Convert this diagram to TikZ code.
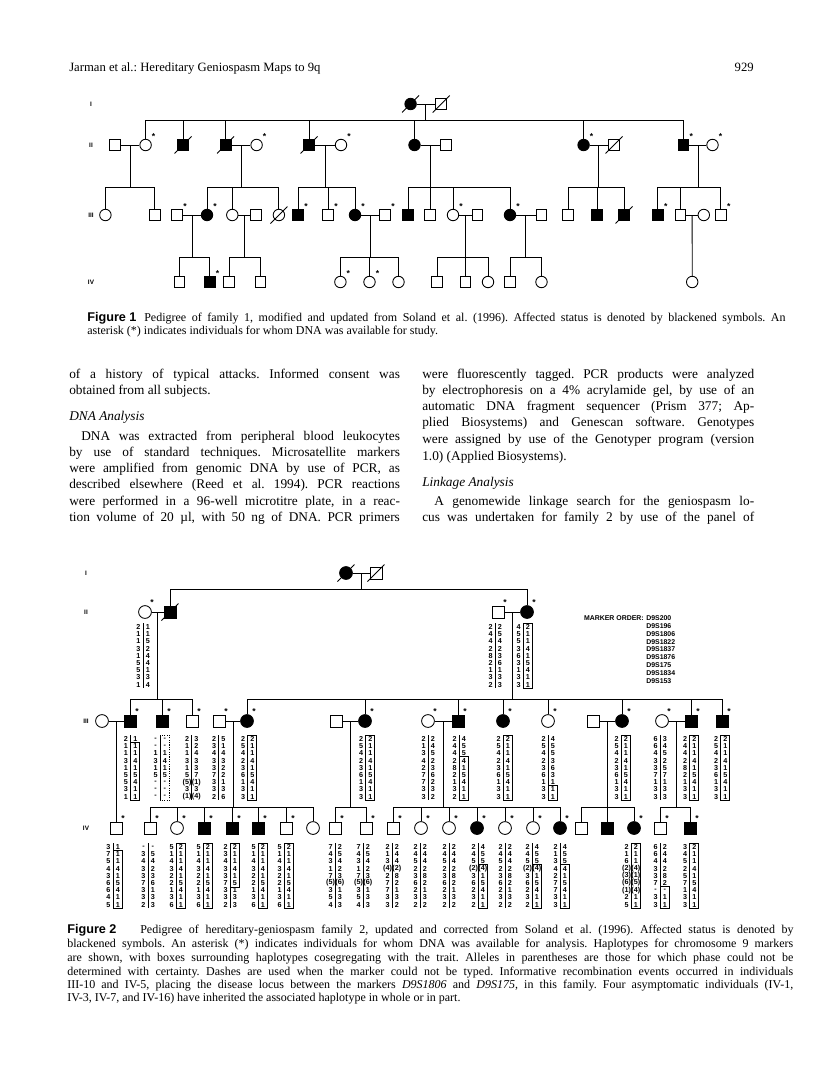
\documentclass[tikz,border=0pt]{standalone}
\usepackage{fontspec}
\setmainfont{Liberation Serif}
\newfontfamily\gsans{Liberation Sans}
\usetikzlibrary{calc}
\frenchspacing
\tikzset{
  lw/.style={line width=0.65pt},
  pb/.style={draw,line width=0.65pt,inner sep=0pt},
  sqA/.style={pb,rectangle,minimum size=8.1pt,fill=white},
  sqAf/.style={sqA,fill=black},
  ciA/.style={pb,circle,minimum size=8.6pt,fill=white},
  ciAf/.style={ciA,fill=black},
  sqB/.style={pb,rectangle,minimum size=9pt,fill=white},
  sqBf/.style={sqB,fill=black},
  ciB/.style={pb,circle,minimum size=9.6pt,fill=white},
  ciBf/.style={ciB,fill=black},
  astr/.style={font=\gsans\bfseries\fontsize{6.5}{7}\selectfont,inner sep=0pt},
  glab/.style={font=\gsans\bfseries\fontsize{4.8}{5}\selectfont,inner sep=0pt},
  gt/.style={font=\gsans\bfseries\fontsize{5.4}{6}\selectfont,inner sep=0pt},
  gsep/.style={line width=0.45pt},
  gbox/.style={line width=0.5pt},
  gboxd/.style={line width=0.5pt,dash pattern=on 0.9pt off 0.9pt},
  mk/.style={font=\gsans\bfseries\fontsize{5.2}{6}\selectfont,inner sep=0pt},
  bt/.style={font=\fontsize{10}{12}\selectfont,inner sep=0pt,anchor=base west},
  bth/.style={font=\fontsize{10}{12}\selectfont\itshape,inner sep=0pt,anchor=base west},
  cp/.style={font=\fontsize{9}{10}\selectfont,inner sep=0pt,anchor=base west},
  cpf/.style={font=\gsans\bfseries\fontsize{9.5}{10}\selectfont,inner sep=0pt,anchor=base west},
}
\newcommand\deadsl[1]{\draw[lw] ($(#1.center)+(-8.5,8.5)$) -- ($(#1.center)+(8.5,-8.5)$);}
\newcommand\asA[1]{\node[astr] (#1s) at ($(#1.center)+(8,-8)$) {*};}
\newcommand\asB[1]{\node[astr] (#1s) at ($(#1.center)+(7,-9)$) {*};}
\newcommand\desc[3]{\coordinate (#1m) at ($(#1)!0.5!(#2)$); \draw[lw] (#1m) -- (#1m |- 0,#3);}
\newcommand\sib[4]{\draw[lw] (#2.north |- 0,#1) -- (#3.north |- 0,#1);
  \foreach \c in {#4}{\draw[lw] (\c.north) -- (\c.north |- 0,#1);}}
\newcommand\geno[8]{%
  \foreach \v [count=\i] in {#4}{\node[gt] (#1l\i) at ({#2-4.5},{#3+(\i-1)*7.2}) {\v};}
  \foreach \v [count=\i] in {#5}{\node[gt] (#1r\i) at ({#2+4.8},{#3+(\i-1)*7.2}) {\v};}
  \draw[gsep] (#2,{#3-3.8}) -- (#2,{#3+61.4});
  \ifnum#6>0 \draw[#8] (#2,{#3+(#6-1)*7.2-3.9}) rectangle ({#2+9.3},{#3+(#7-1)*7.2+3.9});\fi
}
\begin{document}
\begin{tikzpicture}[x=0.75pt,y=-0.75pt]
\fill[white] (0,0) rectangle (816,1081);
\useasboundingbox (0,0) rectangle (816,1081);

% ---------- header ----------
\node[bt,font=\fontsize{9.5}{11}\selectfont] (hdl) at (69,72) {Jarman et al.: Hereditary Geniospasm Maps to 9q};
\node[bt,anchor=base east,font=\fontsize{9.5}{11}\selectfont] (hdr) at (754,72) {929};

% ---------- Figure 1 ----------
\node[glab] (g1a) at (91,104) {I};
\node[glab] (g1b) at (91,145) {II};
\node[glab] (g1c) at (91,215) {III};
\node[glab] (g1d) at (91,282) {IV};

\node[ciAf] (aI1) at (410.6,104) {};
\node[sqA] (aI2) at (441.2,104) {};
\deadsl{aI1}\deadsl{aI2}
\draw[lw] (aI1) -- (aI2);
\desc{aI1}{aI2}{120}

\node[sqA] (aII1) at (115,145) {};
\node[ciA] (aII2) at (145.6,145) {};
\node[sqAf] (aII3) at (183,145) {};
\node[sqAf] (aII4) at (225.6,145) {};
\node[ciA] (aII5) at (256.6,145) {};
\node[sqAf] (aII6) at (309,145) {};
\node[ciA] (aII7) at (341,145) {};
\node[ciAf] (aII8) at (414.5,145) {};
\node[sqA] (aII9) at (446,145) {};
\node[ciAf] (aII10) at (583.6,145) {};
\node[sqA] (aII11) at (614,145) {};
\node[sqAf] (aII12) at (683.4,145) {};
\node[ciA] (aII13) at (712.5,145) {};
\deadsl{aII3}\deadsl{aII4}\deadsl{aII6}\deadsl{aII11}
\asA{aII2}\asA{aII5}\asA{aII7}\asA{aII10}\asA{aII12}\asA{aII13}
\draw[lw] (aII1) -- (aII2); \draw[lw] (aII4) -- (aII5); \draw[lw] (aII6) -- (aII7);
\draw[lw] (aII8) -- (aII9); \draw[lw] (aII10) -- (aII11); \draw[lw] (aII12) -- (aII13);
\sib{120}{aII2}{aII12}{aII2,aII3,aII4,aII6,aII8,aII10,aII12}

\node[ciA] (aIII1) at (105.4,215) {};
\node[sqA] (aIII2) at (154.8,215) {};
\node[sqA] (aIII3) at (177,215) {};
\node[ciAf] (aIII4) at (207,215) {};
\node[ciA] (aIII5) at (232.3,215) {};
\node[sqA] (aIII6) at (255.6,215) {};
\node[ciA] (aIII7) at (278.9,215) {};
\node[sqAf] (aIII8) at (298,215) {};
\node[sqA] (aIII9) at (328,215) {};
\node[ciAf] (aIII10) at (355,215) {};
\node[sqA] (aIII11) at (385,215) {};
\node[sqAf] (aIII12) at (408,215) {};
\node[sqA] (aIII13) at (430,215) {};
\node[ciA] (aIII14) at (453,215) {};
\node[sqA] (aIII15) at (477.5,215) {};
\node[ciAf] (aIII16) at (510,215) {};
\node[sqA] (aIII17) at (541.5,215) {};
\node[sqA] (aIII18) at (568,215) {};
\node[sqAf] (aIII19) at (597,215) {};
\node[sqAf] (aIII20) at (624,215) {};
\node[sqAf] (aIII21) at (657.7,215) {};
\node[sqA] (aIII22) at (680.5,215) {};
\node[ciA] (aIII23) at (703.8,215) {};
\node[sqA] (aIII24) at (720.7,215) {};
\deadsl{aIII7}\deadsl{aIII20}
\asA{aIII3}\asA{aIII4}\asA{aIII8}\asA{aIII9}\asA{aIII10}\asA{aIII11}\asA{aIII14}\asA{aIII16}\asA{aIII21}\asA{aIII24}
\draw[lw] (aIII3) -- (aIII4); \draw[lw] (aIII5) -- (aIII6); \draw[lw] (aIII10) -- (aIII11);
\draw[lw] (aIII14) -- (aIII15); \draw[lw] (aIII16) -- (aIII17); \draw[lw] (aIII22) -- (aIII23);
\desc{aII1}{aII2}{187}\sib{187}{aIII1}{aIII2}{aIII1,aIII2}
\desc{aII4}{aII5}{187}\sib{187}{aIII4}{aIII7}{aIII4,aIII5,aIII7}
\desc{aII6}{aII7}{187}\sib{187}{aIII8}{aIII10}{aIII8,aIII9,aIII10}
\desc{aII8}{aII9}{187}\sib{187}{aIII12}{aIII16}{aIII12,aIII13,aIII14,aIII16}
\desc{aII10}{aII11}{187}\sib{187}{aIII18}{aIII20}{aIII18,aIII19,aIII20}
\desc{aII12}{aII13}{187}\sib{187}{aIII21}{aIII24}{aIII21,aIII22,aIII24}

\node[sqA] (aIV1) at (179.5,282) {};
\node[sqAf] (aIV2) at (209.6,282) {};
\node[sqA] (aIV3) at (229,282) {};
\node[sqA] (aIV4) at (260.4,282) {};
\node[ciA] (aIV5) at (340.4,282) {};
\node[ciA] (aIV6) at (369.5,282) {};
\node[ciA] (aIV7) at (398.5,282) {};
\node[sqA] (aIV8) at (437.3,282) {};
\node[sqA] (aIV9) at (465.4,282) {};
\node[ciA] (aIV10) at (488,282) {};
\node[sqA] (aIV11) at (510,282) {};
\node[ciA] (aIV12) at (541.5,282) {};
\node[ciA] (aIV13) at (692.2,282) {};
\asA{aIV2}\asA{aIV5}\asA{aIV6}
\desc{aIII3}{aIII4}{257}\sib{257}{aIV1}{aIV2}{aIV1,aIV2}
\desc{aIII5}{aIII6}{257}\sib{257}{aIV3}{aIV4}{aIV3,aIV4}
\desc{aIII10}{aIII11}{257}\sib{257}{aIV5}{aIV7}{aIV5,aIV6,aIV7}
\desc{aIII14}{aIII15}{257}\sib{257}{aIV8}{aIV10}{aIV8,aIV9,aIV10}
\desc{aIII16}{aIII17}{257}\sib{257}{aIV11}{aIV12}{aIV11,aIV12}
\coordinate (aIII22m) at ($(aIII22)!0.5!(aIII23)$);
\draw[lw] (aIII22m) -- (aIV13.north);

% ---------- Figure 1 caption ----------
\node[cpf] (c1f) at (87,321) {Figure 1};
\node[cp] (c1a) at (144,321) {\makebox[481pt][s]{Pedigree of family 1, modified and updated from Soland et al. (1996). Affected status is denoted by blackened symbols. An}};
\node[cp] (c1b) at (87,334.5) {asterisk (*) indicates individuals for whom DNA was available for study.};

% ---------- body text ----------
\node[bt] (b1) at (69,378) {\makebox[248pt][s]{of a history of typical attacks. Informed consent was}};
\node[bt] (b2) at (69,394) {obtained from all subjects.};
\node[bth] (b3) at (69,420) {DNA Analysis};
\node[bt] (b4) at (81,440) {\makebox[239pt][s]{DNA was extracted from peripheral blood leukocytes}};
\node[bt] (b5) at (69,456) {\makebox[248pt][s]{by use of standard techniques. Microsatellite markers}};
\node[bt] (b6) at (69,472) {\makebox[248pt][s]{were amplified from genomic DNA by use of PCR, as}};
\node[bt] (b7) at (69,488) {\makebox[248pt][s]{described elsewhere (Reed et al. 1994). PCR reactions}};
\node[bt] (b8) at (69,505) {\makebox[248pt][s]{were performed in a 96-well microtitre plate, in a reac-}};
\node[bt] (b9) at (69,521) {\makebox[248pt][s]{tion volume of 20 µl, with 50 ng of DNA. PCR primers}};
\node[bt] (r1) at (422,378) {\makebox[249pt][s]{were fluorescently tagged. PCR products were analyzed}};
\node[bt] (r2) at (422,394) {\makebox[249pt][s]{by electrophoresis on a 4\% acrylamide gel, by use of an}};
\node[bt] (r3) at (422,410) {\makebox[249pt][s]{automatic DNA fragment sequencer (Prism 377; Ap-}};
\node[bt] (r4) at (422,426) {\makebox[249pt][s]{plied Biosystems) and Genescan software. Genotypes}};
\node[bt] (r5) at (422,443) {\makebox[249pt][s]{were assigned by use of the Genotyper program (version}};
\node[bt] (r6) at (422,460) {1.0) (Applied Biosystems).};
\node[bth] (r7) at (422,486) {Linkage Analysis};
\node[bt] (r8) at (434,505) {\makebox[240pt][s]{A genomewide linkage search for the geniospasm lo-}};
\node[bt] (r9) at (422,521) {\makebox[249pt][s]{cus was undertaken for family 2 by use of the panel of}};

% ---------- Figure 2 ----------
\node[glab] (g2a) at (86,573) {I};
\node[glab] (g2b) at (86,612) {II};
\node[glab] (g2c) at (86,721) {III};
\node[glab] (g2d) at (86,828) {IV};

\node[ciBf] (bI1) at (346,573) {};
\node[sqB] (bI2) at (376,573) {};
\deadsl{bI1}\deadsl{bI2}
\draw[lw] (bI1) -- (bI2);
\desc{bI1}{bI2}{589}

\node[ciB] (bII1) at (145,612) {};
\node[sqBf] (bII2) at (170,612) {};
\node[sqB] (bII3) at (498,612) {};
\node[ciBf] (bII4) at (527,612) {};
\deadsl{bII2}
\asB{bII1}\asB{bII3}\asB{bII4}
\draw[lw] (bII1) -- (bII2); \draw[lw] (bII3) -- (bII4);
\sib{589}{bII2}{bII4}{bII2,bII4}

\node[mk,anchor=east] (mkh) at (644,618) {MARKER ORDER:};
\foreach \m [count=\i] in {D9S200,D9S196,D9S1806,D9S1822,D9S1837,D9S1876,D9S175,D9S1834,D9S153}
  {\node[mk,anchor=west] (mk\i) at ({646},{618+(\i-1)*7.9}) {\m};}

\geno{o1}{143}{627}{2,1,1,3,1,5,5,3,1}{1,1,5,2,4,4,1,3,4}{0}{0}{gbox}
\geno{o2}{495}{627}{2,4,4,2,8,2,1,3,2}{2,5,4,2,3,6,1,3,3}{0}{0}{gbox}
\geno{o3}{523}{627}{4,5,5,3,6,3,1,3,3}{2,1,1,4,1,5,4,1,1}{1}{9}{gbox}

\node[ciB] (bIII1) at (102,721) {};
\node[sqBf] (bIII2) at (130,721) {};
\node[sqBf] (bIII3) at (162,721) {};
\node[sqB] (bIII4) at (192,721) {};
\node[sqB] (bIII5) at (219,721) {};
\node[ciBf] (bIII6) at (247,721) {};
\node[sqB] (bIII7) at (336,721) {};
\node[ciBf] (bIII8) at (365,721) {};
\node[ciB] (bIII9) at (428,721) {};
\node[sqBf] (bIII10) at (458,721) {};
\node[ciBf] (bIII11) at (503,721) {};
\node[ciB] (bIII12) at (548,721) {};
\node[sqB] (bIII13) at (593,721) {};
\node[ciBf] (bIII14) at (622,721) {};
\node[ciB] (bIII15) at (662,721) {};
\node[sqBf] (bIII16) at (691,721) {};
\node[sqBf] (bIII17) at (722,721) {};
\asB{bIII2}\asB{bIII3}\asB{bIII4}\asB{bIII5}\asB{bIII6}\asB{bIII8}\asB{bIII9}\asB{bIII10}
\asB{bIII11}\asB{bIII12}\asB{bIII14}\asB{bIII15}\asB{bIII16}\asB{bIII17}
\draw[lw] (bIII1) -- (bIII2); \draw[lw] (bIII5) -- (bIII6); \draw[lw] (bIII7) -- (bIII8);
\draw[lw] (bIII9) -- (bIII10); \draw[lw] (bIII13) -- (bIII14); \draw[lw] (bIII15) -- (bIII16);
\desc{bII1}{bII2}{699}\sib{699}{bIII2}{bIII4}{bIII2,bIII3,bIII4}
\desc{bII3}{bII4}{699}\sib{699}{bIII6}{bIII17}{bIII6,bIII8,bIII10,bIII11,bIII12,bIII14,bIII16,bIII17}

\geno{p1}{130.5}{739}{2,1,1,3,1,5,5,3,1}{1,1,1,4,1,5,4,1,1}{2}{9}{gbox}
\geno{p2}{160}{739}{-,-,1,3,1,5,-,-,-}{-,-,1,4,1,5,-,-,-}{1}{9}{gboxd}
\geno{p3}{191.5}{739}{2,1,1,3,1,5,(5),3,(1)}{3,2,4,3,3,7,(1),3,(4)}{0}{0}{gbox}
\geno{p4}{218.5}{739}{2,3,4,3,3,7,3,3,2}{5,1,4,3,2,2,1,3,6}{0}{0}{gbox}
\geno{p5}{247.5}{739}{2,5,4,2,3,6,1,3,3}{2,1,1,4,1,5,4,1,1}{1}{9}{gbox}
\geno{p6}{365.5}{739}{2,5,4,2,3,6,1,3,3}{2,1,1,4,1,5,4,1,1}{1}{9}{gbox}
\geno{p7}{428}{739}{2,1,3,4,2,7,7,3,3}{2,4,5,2,3,6,2,3,2}{0}{0}{gbox}
\geno{p8}{459}{739}{2,4,4,2,8,2,1,3,2}{4,5,5,4,1,5,4,1,1}{4}{9}{gbox}
\geno{p9}{503}{739}{2,5,4,2,3,6,1,3,3}{2,1,1,4,1,5,4,1,1}{1}{9}{gbox}
\geno{p10}{548}{739}{2,5,4,2,3,6,1,3,3}{4,5,5,3,6,3,1,1,1}{8}{9}{gbox}
\geno{p11}{621}{739}{2,5,4,2,3,6,1,3,3}{2,1,1,4,1,5,4,1,1}{1}{9}{gbox}
\geno{p12}{660}{739}{6,6,4,3,3,7,1,3,3}{3,4,5,2,5,7,1,3,3}{0}{0}{gbox}
\geno{p13}{689.5}{739}{2,4,4,2,8,2,1,3,3}{2,1,1,4,1,5,4,1,1}{1}{9}{gbox}
\geno{p14}{720.5}{739}{2,5,4,2,3,6,1,3,3}{2,1,1,4,1,5,4,1,1}{1}{9}{gbox}

\node[sqB] (bIV1) at (116,828) {};
\node[sqB] (bIV2) at (150,828) {};
\node[ciB] (bIV3) at (177,828) {};
\node[sqBf] (bIV4) at (204,828) {};
\node[sqBf] (bIV5) at (232,828) {};
\node[sqBf] (bIV6) at (258,828) {};
\node[sqB] (bIV7) at (286,828) {};
\node[ciB] (bIV8) at (313,828) {};
\node[sqB] (bIV9) at (335,828) {};
\node[sqB] (bIV10) at (366,828) {};
\node[sqB] (bIV11) at (393,828) {};
\node[ciB] (bIV12) at (421,828) {};
\node[ciB] (bIV13) at (449,828) {};
\node[ciBf] (bIV14) at (477,828) {};
\node[ciB] (bIV15) at (505,828) {};
\node[ciB] (bIV16) at (533,828) {};
\node[ciBf] (bIV17) at (560,828) {};
\node[sqB] (bIV18) at (581,828) {};
\node[sqBf] (bIV19) at (607,828) {};
\node[ciBf] (bIV20) at (634,828) {};
\node[sqB] (bIV21) at (660,828) {};
\node[sqBf] (bIV22) at (690,828) {};
\asB{bIV1}\asB{bIV2}\asB{bIV3}\asB{bIV4}\asB{bIV5}\asB{bIV6}\asB{bIV7}\asB{bIV9}\asB{bIV10}
\asB{bIV11}\asB{bIV12}\asB{bIV13}\asB{bIV14}\asB{bIV15}\asB{bIV16}\asB{bIV17}\asB{bIV20}\asB{bIV21}\asB{bIV22}
\coordinate (bIII1m) at ($(bIII1)!0.5!(bIII2)$);
\draw[lw] (bIII1m) -- (bIV1.north);
\desc{bIII5}{bIII6}{807}\sib{807}{bIV2}{bIV8}{bIV2,bIV3,bIV4,bIV5,bIV6,bIV7,bIV8}
\desc{bIII7}{bIII8}{807}\sib{807}{bIV9}{bIV10}{bIV9,bIV10}
\desc{bIII9}{bIII10}{807}\sib{807}{bIV11}{bIV17}{bIV11,bIV12,bIV13,bIV14,bIV15,bIV16,bIV17}
\desc{bIII13}{bIII14}{807}\sib{807}{bIV18}{bIV20}{bIV18,bIV19,bIV20}
\desc{bIII15}{bIII16}{807}\sib{807}{bIV21}{bIV22}{bIV21,bIV22}

\geno{q1}{113}{847}{3,7,5,4,3,6,6,4,5}{1,1,1,4,1,5,4,1,1}{2}{9}{gbox}
\geno{q2}{148}{847}{-,3,4,3,3,7,3,3,2}{-,5,4,2,3,6,1,3,3}{0}{0}{gbox}
\geno{q3}{176}{847}{5,1,4,3,2,2,1,3,6}{2,1,1,4,1,5,4,1,1}{1}{9}{gbox}
\geno{q4}{203}{847}{5,1,4,3,2,2,1,3,6}{2,1,1,4,1,5,4,1,1}{1}{9}{gbox}
\geno{q5}{230}{847}{2,3,4,3,3,7,3,3,2}{2,1,1,4,1,5,1,3,3}{1}{6}{gbox}
\geno{q6}{258}{847}{5,1,4,3,2,2,1,3,6}{2,1,1,4,1,5,4,1,1}{1}{9}{gbox}
\geno{q7}{284}{847}{5,1,4,3,2,2,1,3,6}{2,1,1,4,1,5,4,1,1}{1}{9}{gbox}
\geno{q8}{335}{847}{7,4,3,1,7,(5),3,5,4}{2,5,4,2,3,(6),1,3,3}{0}{0}{gbox}
\geno{q9}{363}{847}{7,4,3,1,7,(5),3,5,4}{2,5,4,2,3,(6),1,3,3}{0}{0}{gbox}
\geno{q10}{392}{847}{2,1,3,(4),2,7,7,3,3}{2,4,4,(2),8,2,1,3,2}{0}{0}{gbox}
\geno{q11}{420}{847}{2,4,5,2,3,6,2,3,2}{2,4,4,2,8,2,1,3,2}{0}{0}{gbox}
\geno{q12}{449}{847}{2,4,5,2,3,6,2,3,2}{2,4,4,2,8,2,1,3,2}{0}{0}{gbox}
\geno{q13}{478}{847}{2,4,5,(2),3,6,2,3,2}{4,5,5,(4),1,5,4,1,1}{4}{9}{gbox}
\geno{q14}{505}{847}{2,4,5,2,3,6,2,3,2}{2,4,4,2,8,2,1,3,2}{0}{0}{gbox}
\geno{q15}{532}{847}{2,4,5,(2),3,6,2,3,2}{4,5,5,(4),1,5,4,1,1}{4}{9}{gbox}
\geno{q16}{560}{847}{2,1,3,4,2,7,7,3,3}{4,5,5,4,1,5,4,1,1}{4}{9}{gbox}
\geno{q17}{631}{847}{2,1,6,(2),(3),(6),(1),2,5}{2,1,1,(4),(1),(5),(4),1,1}{1}{9}{gbox}
\geno{q18}{660}{847}{6,6,4,3,3,7,-,3,3}{2,4,4,2,8,2,-,1,1}{7}{9}{gbox}
\geno{q19}{689.5}{847}{3,4,5,2,5,7,1,3,3}{2,1,1,4,1,5,4,1,1}{1}{9}{gbox}

% ---------- Figure 2 caption ----------
\node[cpf] (c2f) at (67,933) {Figure 2};
\node[cp] (c2a) at (140,933) {\makebox[490pt][s]{Pedigree of hereditary-geniospasm family 2, updated and corrected from Soland et al. (1996). Affected status is denoted by}};
\node[cp] (c2b) at (67,947) {\makebox[544.5pt][s]{blackened symbols. An asterisk (*) indicates individuals for whom DNA was available for analysis. Haplotypes for chromosome 9 markers}};
\node[cp] (c2c) at (67,961) {\makebox[544.5pt][s]{are shown, with boxes surrounding haplotypes cosegregating with the trait. Alleles in parentheses are those for which phase could not be}};
\node[cp] (c2d) at (67,975) {\makebox[544.5pt][s]{determined with certainty. Dashes are used when the marker could not be typed. Informative recombination events occurred in individuals}};
\node[cp] (c2e) at (67,988) {\makebox[544.5pt][s]{III-10 and IV-5, placing the disease locus between the markers \textit{D9S1806} and \textit{D9S175}, in this family. Four asymptomatic individuals (IV-1,}};
\node[cp] (c2g) at (67,1001) {IV-3, IV-7, and IV-16) have inherited the associated haplotype in whole or in part.};
\end{tikzpicture}
\end{document}
